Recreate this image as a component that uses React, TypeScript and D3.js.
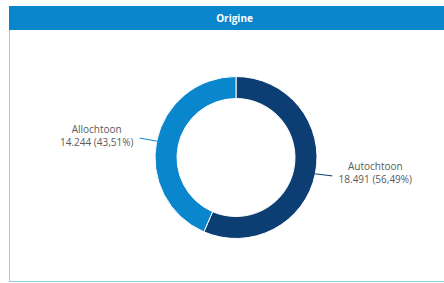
import React from "react";
import * as d3 from "d3";

// origin breakdown (counts and shares as shown)
const categories = ["Autochtoon", "Allochtoon"];
const counts = [18491, 14244];
const shares = ["56,49%", "43,51%"];
const countLabels = ["18.491", "14.244"];
const sliceColors = ["#0c3e73", "#0a86cc"];
const title = "Origine";

const W = 444;
const H = 283;
const panel = { left: 9, top: 6, right: 460, bottom: 281, header: 24 };
const cx = 236;
const cy = 157.5;
const outerR = 81;
const innerR = 59;
const font = "'Open Sans', sans-serif";

export default function App() {
  const pie = d3
    .pie<number>()
    .sort(null)
    .value((d) => d);
  const slices = pie(counts);
  const arc = d3.arc<d3.PieArcDatum<number>>().innerRadius(innerR).outerRadius(outerR);

  const labels = slices.map((s, i) => {
    const mid = (s.startAngle + s.endAngle) / 2;
    const sin = Math.sin(mid);
    const cos = Math.cos(mid);
    const side = sin >= 0 ? 1 : -1;
    const p0 = [cx + outerR * sin, cy - outerR * cos];
    const p1 = [p0[0] + side * 17, p0[1] + (side > 0 ? 2 : -3)];
    const tx = p1[0] + side * 43;
    return { i, p0, p1, tx, ty: p1[1] - 5.5 };
  });

  return (
    <svg
      width={W}
      height={H}
      style={{ position: "fixed", left: 0, top: 0, background: "#fff" }}
      fontFamily={font}
    >
      <rect
        x={panel.left + 0.5}
        y={panel.top + 0.5}
        width={panel.right - panel.left}
        height={panel.bottom - panel.top}
        fill="#fff"
        stroke="#8fd0ee"
        strokeWidth={1}
      />
      <rect
        x={panel.left}
        y={panel.top}
        width={panel.right - panel.left}
        height={panel.header}
        fill="#0a87cc"
      />
      <text
        x={(panel.left + panel.right) / 2}
        y={panel.top + panel.header / 2 + 3.5}
        textAnchor="middle"
        fill="#fff"
        fontSize={10}
        fontWeight="bold"
      >
        {title}
      </text>
      <g transform={`translate(${cx},${cy})`}>
        {slices.map((s, i) => (
          <path
            key={categories[i]}
            d={arc(s) || ""}
            fill={sliceColors[i]}
            stroke="#fff"
            strokeWidth={1}
          />
        ))}
      </g>
      {labels.map((l) => (
        <g key={categories[l.i]}>
          <path
            d={d3.line()([l.p0 as [number, number], l.p1 as [number, number]]) || ""}
            fill="none"
            stroke={sliceColors[l.i]}
            strokeWidth={1}
          />
          <text x={l.tx} y={l.ty} textAnchor="middle" fontSize={10} fill="#5a5a5a">
            {categories[l.i]}
          </text>
          <text x={l.tx} y={l.ty + 13} textAnchor="middle" fontSize={10} fill="#5a5a5a">
            {`${countLabels[l.i]} (${shares[l.i]})`}
          </text>
        </g>
      ))}
    </svg>
  );
}
